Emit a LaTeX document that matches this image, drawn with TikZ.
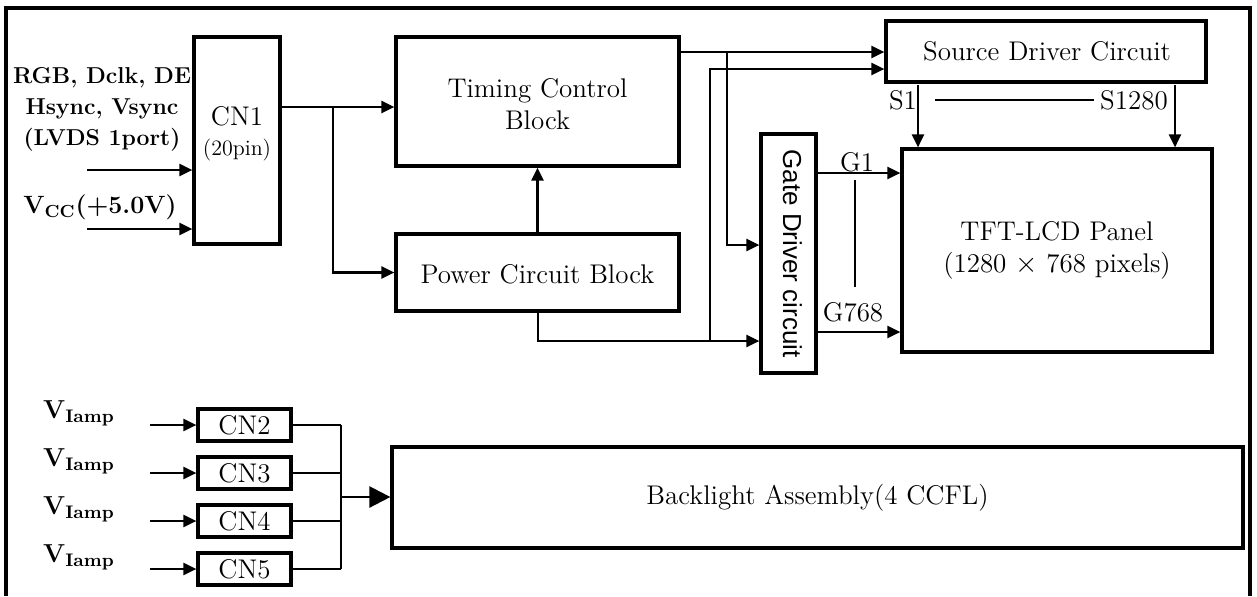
\documentclass[tikz,border=0pt]{standalone}
\usepackage{fontspec}
\newfontfamily\arialf{Liberation Sans}
\usetikzlibrary{arrows.meta,fit,calc}
\begin{document}
\begin{tikzpicture}[x=0.5pt,y=-0.5pt,
  box/.style={draw,line width=1.6pt,inner sep=0pt},
  conn/.style={line width=1.2pt},
  arr/.style={conn,-{Triangle[length=6.5pt,width=6pt]}},
  bigarr/.style={conn,-{Triangle[length=10.5pt,width=10.5pt]}},
  thinline/.style={line width=0.8pt},
  txt/.style={font=\fontsize{13.5}{16}\selectfont,inner sep=0pt},
  lbl/.style={font=\bfseries\fontsize{11.5}{15.5}\selectfont,align=center,inner sep=0pt},
  vlbl/.style={font=\bfseries\fontsize{13}{15}\selectfont,inner sep=0pt}
]
\useasboundingbox (0,0) rectangle (1257,596);
% frame
\draw[line width=1.6pt] (6,596) -- (6,8) -- (1250,8) -- (1250,596);

% box corners
\coordinate (cn1a) at (194,37);  \coordinate (cn1b) at (280,244);
\coordinate (tca) at (396,37);   \coordinate (tcb) at (679,166);
\coordinate (pca) at (396,234);  \coordinate (pcb) at (679,311);
\coordinate (sda) at (886,21);   \coordinate (sdb) at (1206,82);
\coordinate (gda) at (761,134);  \coordinate (gdb) at (816,373);
\coordinate (tfa) at (902,149);  \coordinate (tfb) at (1212,352);
\coordinate (c2a) at (198,409);  \coordinate (c2b) at (291,441);
\coordinate (c3a) at (198,457);  \coordinate (c3b) at (291,489);
\coordinate (c4a) at (198,505);  \coordinate (c4b) at (291,537);
\coordinate (c5a) at (198,553);  \coordinate (c5b) at (291,585);
\coordinate (bla) at (392,447);  \coordinate (blb) at (1243,548);

% boxes
\node[box,fit=(cn1a)(cn1b)] (CN1) {};
\node[txt,align=center] (cn1t) at (237,134) {CN1\\[-1pt]{\fontsize{11}{13}\selectfont(20pin)}};
\node[box,fit=(tca)(tcb)] (TC) {};
\node[txt,align=center] (tct) at ($(TC.center)+(0,3)$) {Timing Control\\Block};
\node[box,fit=(pca)(pcb)] (PC) {};
\node[txt] (pct) at ($(PC.center)+(0,2)$) {Power Circuit Block};
\node[box,fit=(sda)(sdb)] (SD) {};
\node[txt] (sdt) at ($(SD.center)+(1,0)$) {Source Driver Circuit};
\node[box,fit=(gda)(gdb)] (GD) {};
\node[rotate=-90,inner sep=0pt,font=\arialf\fontsize{13}{15}\selectfont] (gdt) at ($(GD.center)+(4,0)$) {Gate Driver circuit};
\node[box,fit=(tfa)(tfb)] (TFT) {};
\node[txt,align=center] (tftt) at (TFT.center) {TFT-LCD Panel\\(1280 $\times$ 768 pixels)};
\foreach \n in {2,3,4,5}{
  \node[box,fit=(c\n a)(c\n b)] (CN\n) {};
  \node[txt] (cn\n t) at (CN\n.center) {CN\n};
}
\node[box,fit=(bla)(blb)] (BL) {};
\node[txt] (blt) at (BL.center) {Backlight Assembly(4 CCFL)};

% input labels
\node[lbl] (rgb) at (102,109) {RGB, Dclk, DE\\Hsync, Vsync\\(LVDS 1port)};
\node[vlbl,font=\bfseries\fontsize{12.5}{15}\selectfont] (vcc) at (100,207) {V\textsubscript{CC}(+5.0V)};
\coordinate (in1) at (87,170);
\coordinate (in2) at (87,229);
\draw[arr] (in1) -- (in1 -| CN1.west);
\draw[arr] (in2) -- (in2 -| CN1.west);

% CN1 -> timing / power
\coordinate (j1) at (333,107);
\draw[arr] (CN1.east |- j1) -- (TC.west |- j1);
\draw[arr] (j1) |- (PC.west);
\draw[arr] (PC.north) -- (TC.south);

% timing -> source / gate
\coordinate (t1) at (727,52);
\coordinate (g1) at (727,245);
\draw[arr] (TC.east |- t1) -- (t1 -| SD.west);
\draw[arr] (t1) -- (g1) -- (g1 -| GD.west);

% power -> gate / source
\coordinate (p1) at (538,341);
\coordinate (q2) at (710,69);
\draw[arr] (PC.south -| p1) -- (p1) -- (p1 -| GD.west);
\draw[arr] (q2 |- p1) -- (q2) -- (q2 -| SD.west);

% source -> panel
\coordinate (s1) at (918,85);
\coordinate (s2) at (1175,85);
\draw[arr] (s1) -- (s1 |- TFT.north);
\draw[arr] (s2) -- (s2 |- TFT.north);
\node[txt] (s1l) at (903,100) {S1};
\node[txt] (s2l) at (1134,100) {S1280};
\draw[thinline] (s1l.east -| 935,0) -- (s2l.west -| 1094,0);

% gate -> panel
\coordinate (gg1) at (816,173);
\coordinate (gg2) at (816,332);
\draw[arr] (gg1) -- (gg1 -| TFT.west);
\draw[arr] (gg2) -- (gg2 -| TFT.west);
\node[txt] (g1l) at (857,162) {G1};
\node[txt] (g2l) at (853,312) {G768};
\coordinate (v1) at (855,180);
\coordinate (v2) at (855,287);
\draw[thinline] (v1) -- (v2);

% lamps
\foreach \n/\y in {2/425,3/473,4/521,5/569}{
  \node[vlbl] (vl\n) at (79,\y-12) {V\textsubscript{Iamp}};
  \coordinate (li\n) at (150,\y);
  \draw[arr] (li\n) -- (li\n -| CN\n.west);
  \draw[thinline] (CN\n.east |- li\n) -- (341,\y);
}
\coordinate (m1) at (341,425);
\coordinate (m2) at (341,569);
\coordinate (m3) at (341,497);
\draw[thinline] (m1) -- (m2);
\draw[bigarr] (m3) -- (m3 -| BL.west);
\end{tikzpicture}
\end{document}
